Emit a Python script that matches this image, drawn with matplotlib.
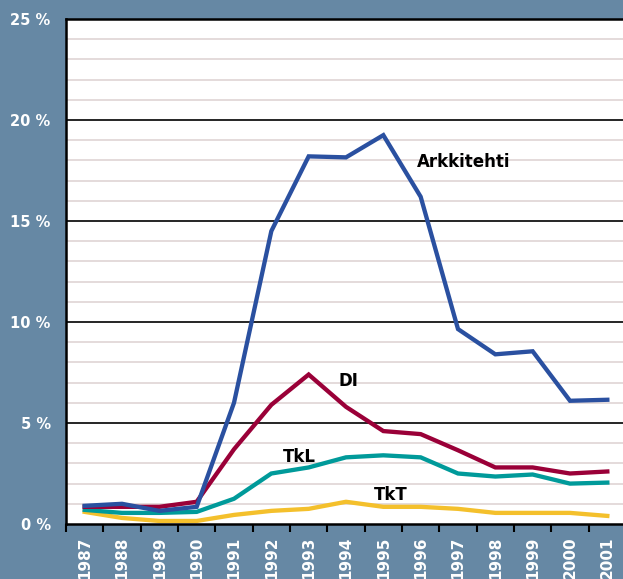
import numpy as np
import matplotlib
matplotlib.use("Agg")
import matplotlib.pyplot as plt
from matplotlib.ticker import FixedLocator

years = ["1987", "1988", "1989", "1990", "1991", "1992", "1993", "1994",
         "1995", "1996", "1997", "1998", "1999", "2000", "2001"]
arkkitehti = [0.9, 1.0, 0.65, 0.85, 6.0, 14.5, 18.2, 18.15, 19.25, 16.2, 9.65, 8.4, 8.55, 6.1, 6.15]
di = [0.85, 0.85, 0.85, 1.1, 3.7, 5.9, 7.4, 5.8, 4.6, 4.45, 3.65, 2.8, 2.8, 2.5, 2.6]
tkl = [0.7, 0.55, 0.55, 0.6, 1.25, 2.5, 2.8, 3.3, 3.4, 3.3, 2.5, 2.35, 2.45, 2.0, 2.05]
tkt = [0.6, 0.3, 0.15, 0.15, 0.45, 0.65, 0.75, 1.1, 0.85, 0.85, 0.75, 0.55, 0.55, 0.55, 0.4]
yticks = [0, 5, 10, 15, 20, 25]

bg = "#6688a4"
plt.rcParams['font.family'] = ['DejaVu Sans']

fig = plt.figure(figsize=(6.23, 5.79), dpi=100, facecolor=bg)
ax = fig.add_axes([66/623, 1-524/579, 560/623, 505/579])
ax.set_facecolor("white")

x = np.arange(len(years))
ax.plot(x, arkkitehti, color="#2a50a0", lw=3.1, solid_joinstyle="miter", zorder=5)
ax.plot(x, di, color="#9a0038", lw=3.1, solid_joinstyle="miter", zorder=4)
ax.plot(x, tkl, color="#009a9a", lw=3.1, solid_joinstyle="miter", zorder=3)
ax.plot(x, tkt, color="#f4c02c", lw=3.1, solid_joinstyle="miter", zorder=2)

# series labels
lab = dict(fontsize=12, fontweight="bold", color="black", va="center", ha="left")
ax.text(8.9, 17.9, "Arkkitehti", **lab)
ax.text(6.8, 7.1, "DI", **lab)
ax.text(5.3, 3.3, "TkL", **lab)
ax.text(7.75, 1.45, "TkT", **lab)

ax.set_xlim(-0.5, len(years) - 0.5)
ax.set_ylim(0, 25)

# grid
for v in range(1, 25):
    if v % 5 == 0:
        ax.axhline(v, color="black", lw=1.2, zorder=1)
    else:
        ax.axhline(v, color="#e4dada", lw=1.4, zorder=1)

ax.set_yticks(yticks)
ax.set_yticklabels([f"{v} %" for v in yticks], color="white", fontsize=10.5, fontweight="bold")
ax.tick_params(axis="y", length=0, pad=11)

ax.xaxis.set_major_locator(FixedLocator(x))
ax.set_xticklabels(years, rotation=90, color="white", fontsize=11, fontweight="bold")
ax.xaxis.set_minor_locator(FixedLocator(np.arange(-0.5, len(years), 1)))
ax.tick_params(axis="x", which="major", length=0, pad=9)
ax.tick_params(axis="x", which="minor", length=6, width=1.5, color="black", direction="out")

for s in ["left", "bottom", "top"]:
    ax.spines[s].set_color("black")
    ax.spines[s].set_linewidth(1.8)
ax.spines["right"].set_visible(False)

fig.savefig("out.png", dpi=100, facecolor=bg)
